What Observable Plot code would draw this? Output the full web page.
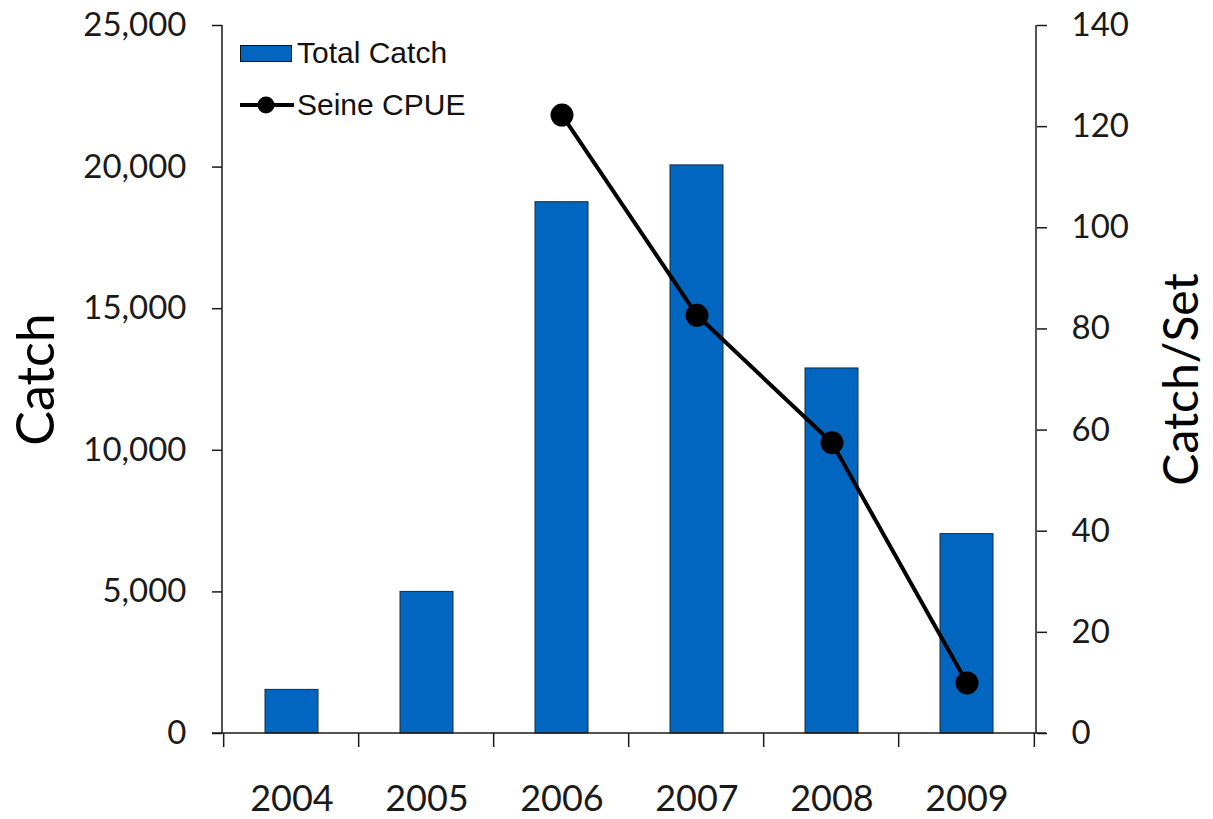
<!DOCTYPE html>
<html>
<head>
<meta charset="utf-8">
<script src="https://cdn.jsdelivr.net/npm/d3@7"></script>
<script src="https://cdn.jsdelivr.net/npm/@observablehq/plot@0.6"></script>
<style>
  html, body { margin: 0; padding: 0; background: #fff; }
  #wrap { position: relative; width: 1213px; height: 819px; }
  #legend { position: absolute; left: 240px; top: 34px; font-family: "Liberation Sans", Arial, sans-serif; font-size: 30px; color: #111; }
  .item { display: flex; align-items: center; height: 38px; }
  .item + .item { margin-top: 14px; }
  .swatch { width: 50px; height: 15px; background: #0066c0; border: 1px solid #111; margin-right: 5px; }
  .item svg { margin-right: 3px; }
</style>
</head>
<body>
<div id="wrap"></div>
<script>
const years = ["2004", "2005", "2006", "2007", "2008", "2009"];
const totalCatch = [1540, 5000, 18760, 20060, 12890, 7040];
const cpueYears = ["2006", "2007", "2008", "2009"];
const cpue = [122.3, 82.7, 57.5, 10];
const leftTicks = [0, 5000, 10000, 15000, 20000, 25000];
const rightTicks = [0, 20, 40, 60, 80, 100, 120, 140];
const leftMax = 25000;
const rightMax = 140;
const seriesNames = ["Total Catch", "Seine CPUE"];

const k = leftMax / rightMax;
const catchData = years.map((year, i) => ({year, value: totalCatch[i]}));
const cpueData = cpueYears.map((year, i) => ({year, value: cpue[i]}));

const W = 1213, H = 819;
const mL = 222, mR = 177, mT = 25, mB = 86;
const barBlue = "#0066c0";
const ink = "#1a1a1a";
const font = "Lato, 'Open Sans', sans-serif";

function frameLines(index, scales, values, dims) {
  const g = d3.create("svg:g").attr("stroke", ink).attr("stroke-width", 1.5).attr("fill", "none");
  const y0 = scales.y(0), yTop = scales.y(leftMax);
  const xl = dims.marginLeft, xr = dims.width - dims.marginRight;
  g.append("line").attr("x1", xl).attr("x2", xl).attr("y1", yTop).attr("y2", y0);
  g.append("line").attr("x1", xr).attr("x2", xr).attr("y1", yTop).attr("y2", y0);
  g.append("line").attr("x1", xl - 10).attr("x2", xr + 10).attr("y1", y0).attr("y2", y0);
  const step = (xr - xl) / years.length;
  const bw = scales.x.bandwidth ? scales.x.bandwidth() : 0;
  const bounds = years.map(yr => scales.x(yr) + bw / 2 - step / 2);
  bounds.push(scales.x(years[years.length - 1]) + bw / 2 + step / 2);
  for (const bx of bounds) {
    g.append("line").attr("x1", bx).attr("x2", bx).attr("y1", y0).attr("y2", y0 + 14);
  }
  return g.node();
}

const chart = Plot.plot({
  width: W,
  height: H,
  marginLeft: mL,
  marginRight: mR,
  marginTop: mT,
  marginBottom: mB,
  style: {fontFamily: font, color: ink, background: "#fff"},
  x: {domain: years, paddingInner: 0.61, paddingOuter: 0.305, axis: null},
  y: {domain: [0, leftMax], axis: null},
  marks: [
    Plot.barY(catchData, {x: "year", y: "value", fill: barBlue, stroke: "#1a2a3a", strokeWidth: 1}),
    frameLines,
    Plot.axisY({ticks: leftTicks, tickFormat: d3.format(","), tickSize: 10, tickPadding: 26, fontSize: 33, label: null, stroke: ink, strokeWidth: 1.5}),
    Plot.axisY({anchor: "right", ticks: rightTicks.map(v => v * k), tickFormat: v => String(Math.round(v / k)), tickSize: 10, tickPadding: 25, fontSize: 33, label: null, stroke: ink, strokeWidth: 1.5}),
    Plot.axisX({tickSize: 0, tickPadding: 52, fontSize: 36, label: null}),
    Plot.line(cpueData, {x: "year", y: d => d.value * k, stroke: "#000", strokeWidth: 4}),
    Plot.dot(cpueData, {x: "year", y: d => d.value * k, r: 11.5, fill: "#000"}),
    Plot.text(["Catch"], {frameAnchor: "left", textAnchor: "middle", dx: -185, rotate: -90, fontSize: 52, fill: "#000"}),
    Plot.text(["Catch/Set"], {frameAnchor: "right", textAnchor: "middle", dx: 146, rotate: -90, fontSize: 48, fill: "#000"})
  ]
});

const wrap = document.getElementById("wrap");
wrap.appendChild(chart);

const legend = document.createElement("div");
legend.id = "legend";
legend.innerHTML = `
  <div class="item"><span class="swatch"></span><span>${seriesNames[0]}</span></div>
  <div class="item"><svg width="54" height="20"><line x1="0" x2="54" y1="10" y2="10" stroke="#000" stroke-width="4"/><circle cx="26" cy="10" r="8.5" fill="#000"/></svg><span>${seriesNames[1]}</span></div>
`;
wrap.appendChild(legend);
</script>
</body>
</html>
